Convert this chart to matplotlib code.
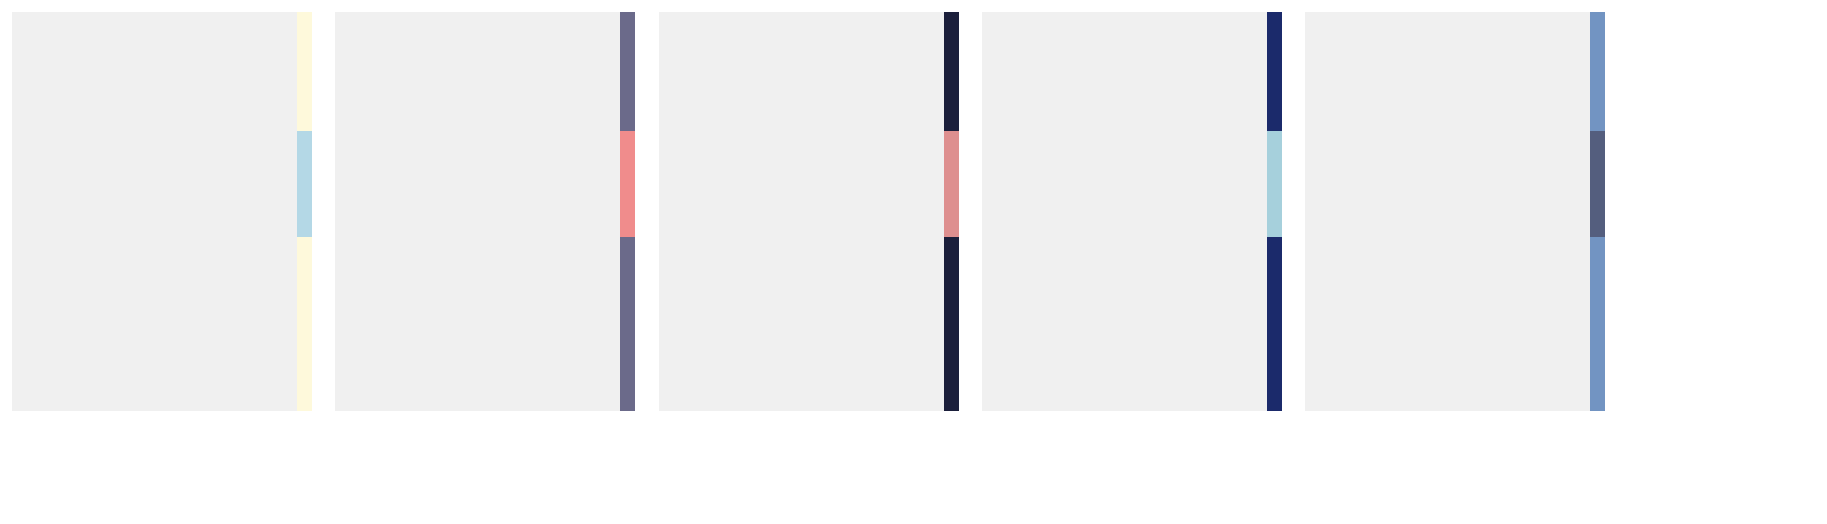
import matplotlib
matplotlib.use('Agg')
import matplotlib.pyplot as plt

# 每个面板右侧色条的三段高度（自下而上）
segment_heights = [43.6, 26.6, 29.8]
n_columns = 20          # 面板横向格数，色条占最后一格
bar_column = 19

# 每个面板的外段颜色和中段颜色
outer_colors = ['#FEF9DB', '#6B6A8A', '#1B1F3B', '#1B2A6B', '#7294C2']
middle_colors = ['#B4D8E6', '#F08C8C', '#DE8F8F', '#A6D0DC', '#545E7E']

W, H = 1827, 524
fig = plt.figure(figsize=(W / 100, H / 100), dpi=100)

left0, top, ax_w, ax_h, step = 12, 12, 300, 399, 323.25

for i in range(len(outer_colors)):
    ax = fig.add_axes([(left0 + i * step) / W, (H - top - ax_h) / H, ax_w / W, ax_h / H])
    ax.set_facecolor('#F0F0F0')
    colors = [outer_colors[i], middle_colors[i], outer_colors[i]]
    bottom = 0
    for h, c in zip(segment_heights, colors):
        ax.bar(bar_column, h, width=1, bottom=bottom, color=c, align='edge', linewidth=0)
        bottom += h
    ax.set_xlim(0, n_columns)
    ax.set_ylim(0, sum(segment_heights))
    ax.set_xticks([])
    ax.set_yticks([])
    for s in ax.spines.values():
        s.set_visible(False)

fig.savefig('out.png', dpi=100)
